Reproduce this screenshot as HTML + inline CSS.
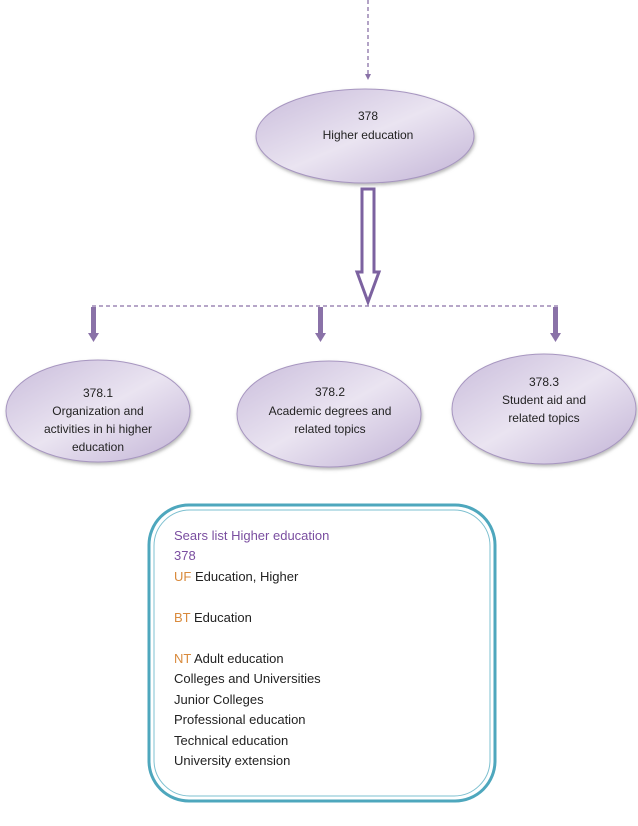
<!DOCTYPE html>
<html><head><meta charset="utf-8"><style>
body{margin:0;background:#fff;width:638px;height:826px;overflow:hidden}
svg{display:block}
text{font-family:"Liberation Sans",sans-serif;font-size:12px;fill:#222}
.b text{font-size:13px}
</style></head><body>
<svg width="638" height="826" viewBox="0 0 638 826" xmlns="http://www.w3.org/2000/svg">
<defs>
<linearGradient id="g" x1="0" y1="0" x2="1" y2="1">
<stop offset="0" stop-color="#c9bcdb"/><stop offset="0.5" stop-color="#eae4f1"/><stop offset="1" stop-color="#c2b3d6"/>
</linearGradient>
<filter id="s" x="-10%" y="-10%" width="120%" height="130%"><feDropShadow dx="1" dy="2" stdDeviation="1.5" flood-color="#888" flood-opacity="0.6"/></filter>
</defs>
<line x1="368" y1="0" x2="368" y2="74" stroke="#8a72a8" stroke-width="1.3" stroke-dasharray="4,3"/>
<polygon points="365,74 371,74 368,80" fill="#8a72a8"/>
<ellipse cx="365" cy="136" rx="109" ry="47" fill="url(#g)" stroke="#a796c0" filter="url(#s)"/>
<text x="368" y="120" text-anchor="middle">378</text>
<text x="368" y="139" text-anchor="middle">Higher education</text>
<polygon points="362,189 374,189 374,272 379,272 368,302 357,272 362,272" fill="#fff" stroke="#7c62a0" stroke-width="3"/>
<line x1="92" y1="306" x2="558" y2="306" stroke="#8a72a8" stroke-width="1.2" stroke-dasharray="4,3"/>
<g fill="#8a72a8">
<rect x="91" y="307" width="5" height="28"/><polygon points="88,333 99,333 93.5,342"/>
<rect x="318" y="307" width="5" height="28"/><polygon points="315,333 326,333 320.5,342"/>
<rect x="553" y="307" width="5" height="28"/><polygon points="550,333 561,333 555.5,342"/>
</g>
<ellipse cx="98" cy="411" rx="92" ry="51" fill="url(#g)" stroke="#a796c0" filter="url(#s)"/>
<text x="98" y="397" text-anchor="middle">378.1</text>
<text x="98" y="415" text-anchor="middle">Organization and</text>
<text x="98" y="433" text-anchor="middle">activities in hi higher</text>
<text x="98" y="451" text-anchor="middle">education</text>
<ellipse cx="329" cy="414" rx="92" ry="53" fill="url(#g)" stroke="#a796c0" filter="url(#s)"/>
<text x="330" y="396" text-anchor="middle">378.2</text>
<text x="330" y="415" text-anchor="middle">Academic degrees and</text>
<text x="330" y="433" text-anchor="middle">related topics</text>
<ellipse cx="544" cy="409" rx="92" ry="55" fill="url(#g)" stroke="#a796c0" filter="url(#s)"/>
<text x="544" y="386" text-anchor="middle">378.3</text>
<text x="544" y="404" text-anchor="middle">Student aid and</text>
<text x="544" y="422" text-anchor="middle">related topics</text>
<rect x="149" y="505" width="346" height="296" rx="40" fill="#fff" stroke="#4ea7bd" stroke-width="3"/>
<rect x="154" y="510" width="336" height="286" rx="36" fill="none" stroke="#7ec0d0" stroke-width="1"/>
<g class="b">
<text x="174" y="540" style="fill:#7a4ea0">Sears list Higher education</text>
<text x="174" y="560" style="fill:#7a4ea0">378</text>
<text x="174" y="581"><tspan style="fill:#d98a3c">UF</tspan> Education, Higher</text>
<text x="174" y="622"><tspan style="fill:#d98a3c">BT</tspan> Education</text>
<text x="174" y="663"><tspan style="fill:#d98a3c">NT</tspan> Adult education</text>
<text x="174" y="683">Colleges and Universities</text>
<text x="174" y="704">Junior Colleges</text>
<text x="174" y="724">Professional education</text>
<text x="174" y="745">Technical education</text>
<text x="174" y="765">University extension</text>
</g>
</svg>
</body></html>
